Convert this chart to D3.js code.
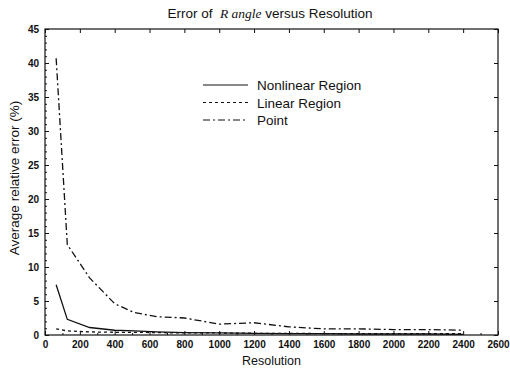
<!DOCTYPE html>
<html>
<head>
<meta charset="utf-8">
<script src="https://cdn.jsdelivr.net/npm/d3@7"></script>
<style>
  body { margin: 0; background: #fff; }
  text { font-family: "Liberation Sans", Arial, sans-serif; fill: #111; }
</style>
</head>
<body>
<script>
const width = 510,
  height = 374;

const margin = { top: 29, right: 12, bottom: 39, left: 45 };

// values
const resolution = [64, 128, 256, 400, 512, 640, 800, 1000, 1200, 1400, 1600, 1800, 2000, 2200, 2400];
const nonlinear = [7.4, 2.3, 1.1, 0.7, 0.6, 0.45, 0.35, 0.3, 0.25, 0.2, 0.2, 0.15, 0.15, 0.15, 0.1];
const linear = [0.9, 0.6, 0.45, 0.4, 0.4, 0.35, 0.3, 0.3, 0.25, 0.25, 0.2, 0.2, 0.2, 0.2, 0.2];
const point = [40.7, 13.3, 8.4, 4.6, 3.3, 2.7, 2.5, 1.6, 1.8, 1.2, 0.9, 0.9, 0.8, 0.8, 0.7];

const xTicks = d3.range(0, 2601, 200);
const yTicks = d3.range(0, 46, 5);

const series = [
  { name: 'Nonlinear Region', values: nonlinear, dash: null },
  { name: 'Linear Region', values: linear, dash: '3,3' },
  { name: 'Point', values: point, dash: '7,3,2,3' }
];

const x = d3.scaleLinear().domain([0, 2600]).range([margin.left, width - margin.right]);
const y = d3.scaleLinear().domain([0, 45]).range([height - margin.bottom, margin.top]);

const svg = d3
  .select('body')
  .append('svg')
  .attr('width', width)
  .attr('height', height);

// frame
svg
  .append('rect')
  .attr('x', x(0))
  .attr('y', y(45))
  .attr('width', x(2600) - x(0))
  .attr('height', y(0) - y(45))
  .style('fill', 'none')
  .style('stroke', '#111')
  .style('stroke-width', 1.2);

// minor ticks
const minorX = d3.range(100, 2600, 200);
const minorY = d3.range(1, 45).filter(v => v % 5 !== 0);

const axisMinorB = svg
  .append('g')
  .attr('transform', `translate(0,${y(0)})`)
  .call(d3.axisBottom(x).tickValues(minorX).tickSize(-2).tickFormat(''));
const axisMinorL = svg
  .append('g')
  .attr('transform', `translate(${x(0)},0)`)
  .call(d3.axisLeft(y).tickValues(minorY).tickSize(-2).tickFormat(''));

// axes, ticks pointing inward on all sides
const axisB = svg
  .append('g')
  .attr('transform', `translate(0,${y(0)})`)
  .call(d3.axisBottom(x).tickValues(xTicks).tickSize(-4).tickPadding(6).tickFormat(d3.format('d')));
const axisT = svg
  .append('g')
  .attr('transform', `translate(0,${y(45)})`)
  .call(d3.axisTop(x).tickValues(xTicks).tickSize(-4).tickFormat(''));
const axisL = svg
  .append('g')
  .attr('transform', `translate(${x(0)},0)`)
  .call(d3.axisLeft(y).tickValues(yTicks).tickSize(-4).tickPadding(6));
const axisR = svg
  .append('g')
  .attr('transform', `translate(${x(2600)},0)`)
  .call(d3.axisRight(y).tickValues(yTicks).tickSize(-4).tickFormat(''));

[axisMinorB, axisMinorL, axisB, axisT, axisL, axisR].forEach(g => {
  g.select('.domain').remove();
  g.selectAll('line').style('stroke', '#111');
  g.selectAll('text')
    .style('font-size', '10px')
    .style('font-weight', 'bold')
    .style('font-family', '"Liberation Sans", Arial, sans-serif');
});

// series
const line = d3
  .line()
  .x((d, i) => x(resolution[i]))
  .y(d => y(d));

svg
  .selectAll('.series')
  .data(series)
  .enter()
  .append('path')
  .attr('class', 'series')
  .attr('d', d => line(d.values))
  .style('fill', 'none')
  .style('stroke', '#111')
  .style('stroke-width', 1.3)
  .style('stroke-dasharray', d => d.dash);

// legend
const legend = svg
  .selectAll('.legend')
  .data(series)
  .enter()
  .append('g')
  .attr('class', 'legend')
  .attr('transform', (d, i) => `translate(203,${85 + i * 17.5})`);

legend
  .append('line')
  .attr('x1', 0)
  .attr('x2', 45)
  .style('stroke', '#111')
  .style('stroke-width', 1)
  .style('stroke-dasharray', d => d.dash);

legend
  .append('text')
  .attr('x', 54)
  .attr('y', 5)
  .style('font-size', '13.5px')
  .text(d => d.name);

// title
const title = svg
  .append('text')
  .attr('x', 270)
  .attr('y', 18)
  .attr('text-anchor', 'middle')
  .style('font-size', '13.5px')
  .style('white-space', 'pre');
title.append('tspan').text('Error of  ');
title
  .append('tspan')
  .style('font-family', '"Liberation Serif", "Times New Roman", serif')
  .style('font-style', 'italic')
  .text('R ');
title
  .append('tspan')
  .style('font-family', '"Liberation Serif", "Times New Roman", serif')
  .style('font-style', 'italic')
  .text('angle');
title.append('tspan').text(' versus Resolution');

// axis labels
svg
  .append('text')
  .attr('x', (x(0) + x(2600)) / 2)
  .attr('y', 365)
  .attr('text-anchor', 'middle')
  .style('font-size', '12.5px')
  .text('Resolution');

svg
  .append('text')
  .attr('transform', `translate(19,178) rotate(-90)`)
  .attr('text-anchor', 'middle')
  .style('font-size', '13.5px')
  .text('Average relative error (%)');
</script>
</body>
</html>
